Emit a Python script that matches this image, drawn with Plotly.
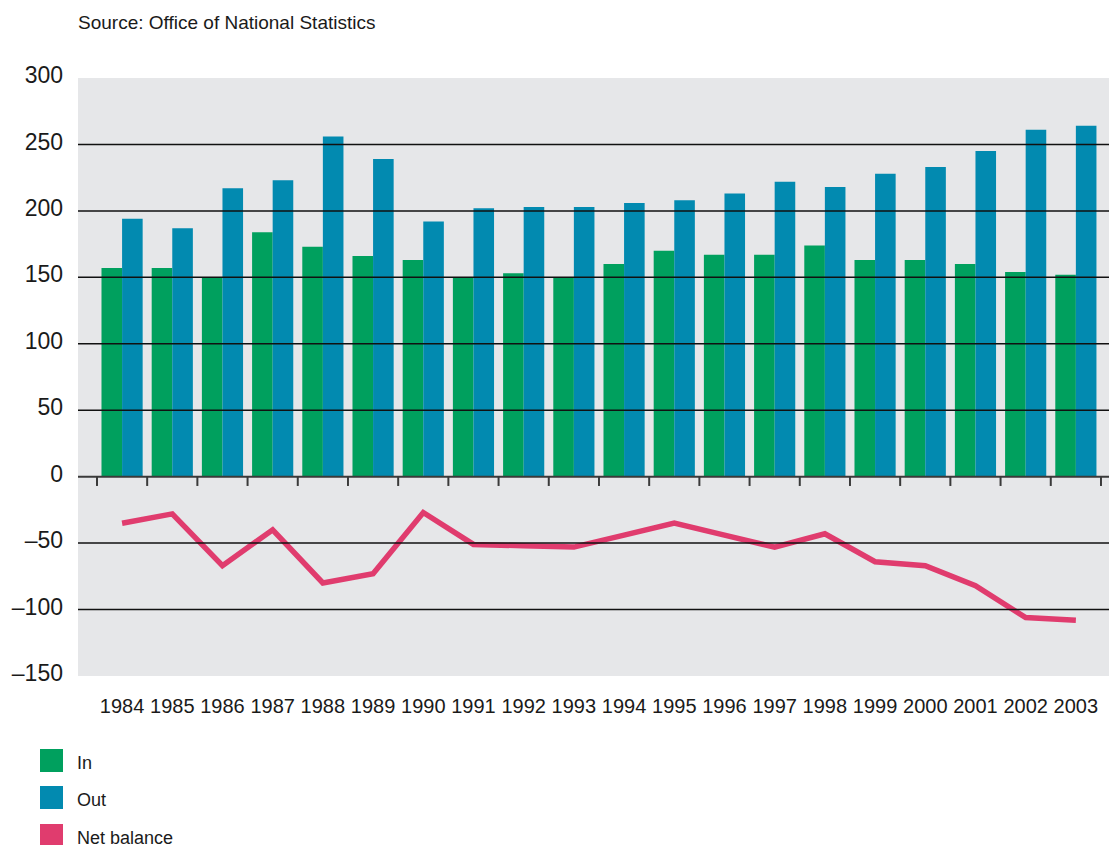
import plotly.graph_objects as go

years = [str(y) for y in range(1984, 2004)]
in_vals = [157, 157, 150, 184, 173, 166, 163, 150, 153, 150,
           160, 170, 167, 167, 174, 163, 163, 160, 154, 152]
out_vals = [194, 187, 217, 223, 256, 239, 192, 202, 203, 203,
            206, 208, 213, 222, 218, 228, 233, 245, 261, 264]
net_vals = [-35, -28, -67, -40, -80, -73, -27, -51, -52, -53,
            -44, -35, -44, -53, -43, -64, -67, -82, -106, -108]
ytick_vals = [-150, -100, -50, 0, 50, 100, 150, 200, 250, 300]
ytick_text = ["\u2013150", "\u2013100", "\u201350", "0", "50", "100", "150", "200", "250", "300"]
grid_vals = [250, 200, 150, 100, 50, -50, -100]

C_IN = "#00a05e"
C_OUT = "#028ab0"
C_NET = "#e03c6e"
BG = "#e6e7e9"
TXT = "#1a1a1a"

W, H = 1109, 845
ML, MR, MT, MB = 78, 0, 78, 169
PW, PH = W - ML - MR, H - MT - MB


def px2x(px):
    return (px - ML) / PW


def px2y(py):
    return (MT + PH - py) / PH


fig = go.Figure()
fig.add_trace(go.Bar(x=years, y=in_vals, name="In", marker=dict(color=C_IN, line=dict(width=0)),
                     showlegend=False))
fig.add_trace(go.Bar(x=years, y=out_vals, name="Out", marker=dict(color=C_OUT, line=dict(width=0)),
                     showlegend=False))
fig.add_trace(go.Scatter(x=years, y=net_vals, name="Net balance", mode="lines",
                         line=dict(color=C_NET, width=5.5), showlegend=False))

shapes = []
for g in grid_vals:
    shapes.append(dict(type="line", xref="paper", yref="y", x0=0, x1=1, y0=g, y1=g,
                       line=dict(color="#111111", width=1.5), layer="above"))
# zero line
shapes.append(dict(type="line", xref="paper", yref="y", x0=0, x1=1, y0=0, y1=0,
                   line=dict(color="#3a3a3a", width=2), layer="above"))
# category boundary ticks below zero line
for k in range(len(years) + 1):
    shapes.append(dict(type="line", xref="x", yref="y", x0=k - 0.5, x1=k - 0.5, y0=0, y1=-7,
                       line=dict(color="#3a3a3a", width=2), layer="above"))

# manual legend
legend_items = [("In", C_IN, 749), ("Out", C_OUT, 786), ("Net balance", C_NET, 824)]
annotations = []
for label, col, top in legend_items:
    shapes.append(dict(type="rect", xref="paper", yref="paper",
                       x0=px2x(40), x1=px2x(63), y0=px2y(top + 23), y1=px2y(top),
                       fillcolor=col, line=dict(width=0)))
    annotations.append(dict(text=label, xref="paper", yref="paper", x=px2x(75), y=px2y(top + 14),
                            xanchor="left", yanchor="middle", showarrow=False,
                            font=dict(family="Liberation Sans, Arial, sans-serif", size=18, color=TXT)))

annotations.append(dict(text="Source: Office of National Statistics", xref="paper", yref="paper",
                        x=px2x(76), y=px2y(23), xanchor="left", yanchor="middle", showarrow=False,
                        font=dict(family="Liberation Sans, Arial, sans-serif", size=19, color=TXT)))

fig.update_layout(
    width=W, height=H,
    margin=dict(l=ML, r=MR, t=MT, b=MB, pad=0),
    paper_bgcolor="white",
    plot_bgcolor=BG,
    barmode="group",
    bargap=0.18,
    bargroupgap=0,
    shapes=shapes,
    annotations=annotations,
    showlegend=False,
    xaxis=dict(
        type="category",
        range=[-0.878, 19.66],
        showgrid=False, zeroline=False, showline=False,
        ticks="",
        tickangle=0,
        tickfont=dict(family="Liberation Sans, Arial, sans-serif", size=20, color=TXT),
        ticklabelstandoff=16,
        fixedrange=True,
    ),
    yaxis=dict(
        range=[-150, 300],
        tickvals=ytick_vals,
        ticktext=ytick_text,
        showgrid=False, zeroline=False, showline=False,
        ticks="",
        tickfont=dict(family="Liberation Sans, Arial, sans-serif", size=23, color=TXT),
        ticklabelstandoff=14,
        ticklabelshift=-3,
        fixedrange=True,
    ),
)

fig.write_html("out.html", config={"displayModeBar": False},
               post_script="document.body.style.margin='0';document.body.style.overflow='hidden';")
